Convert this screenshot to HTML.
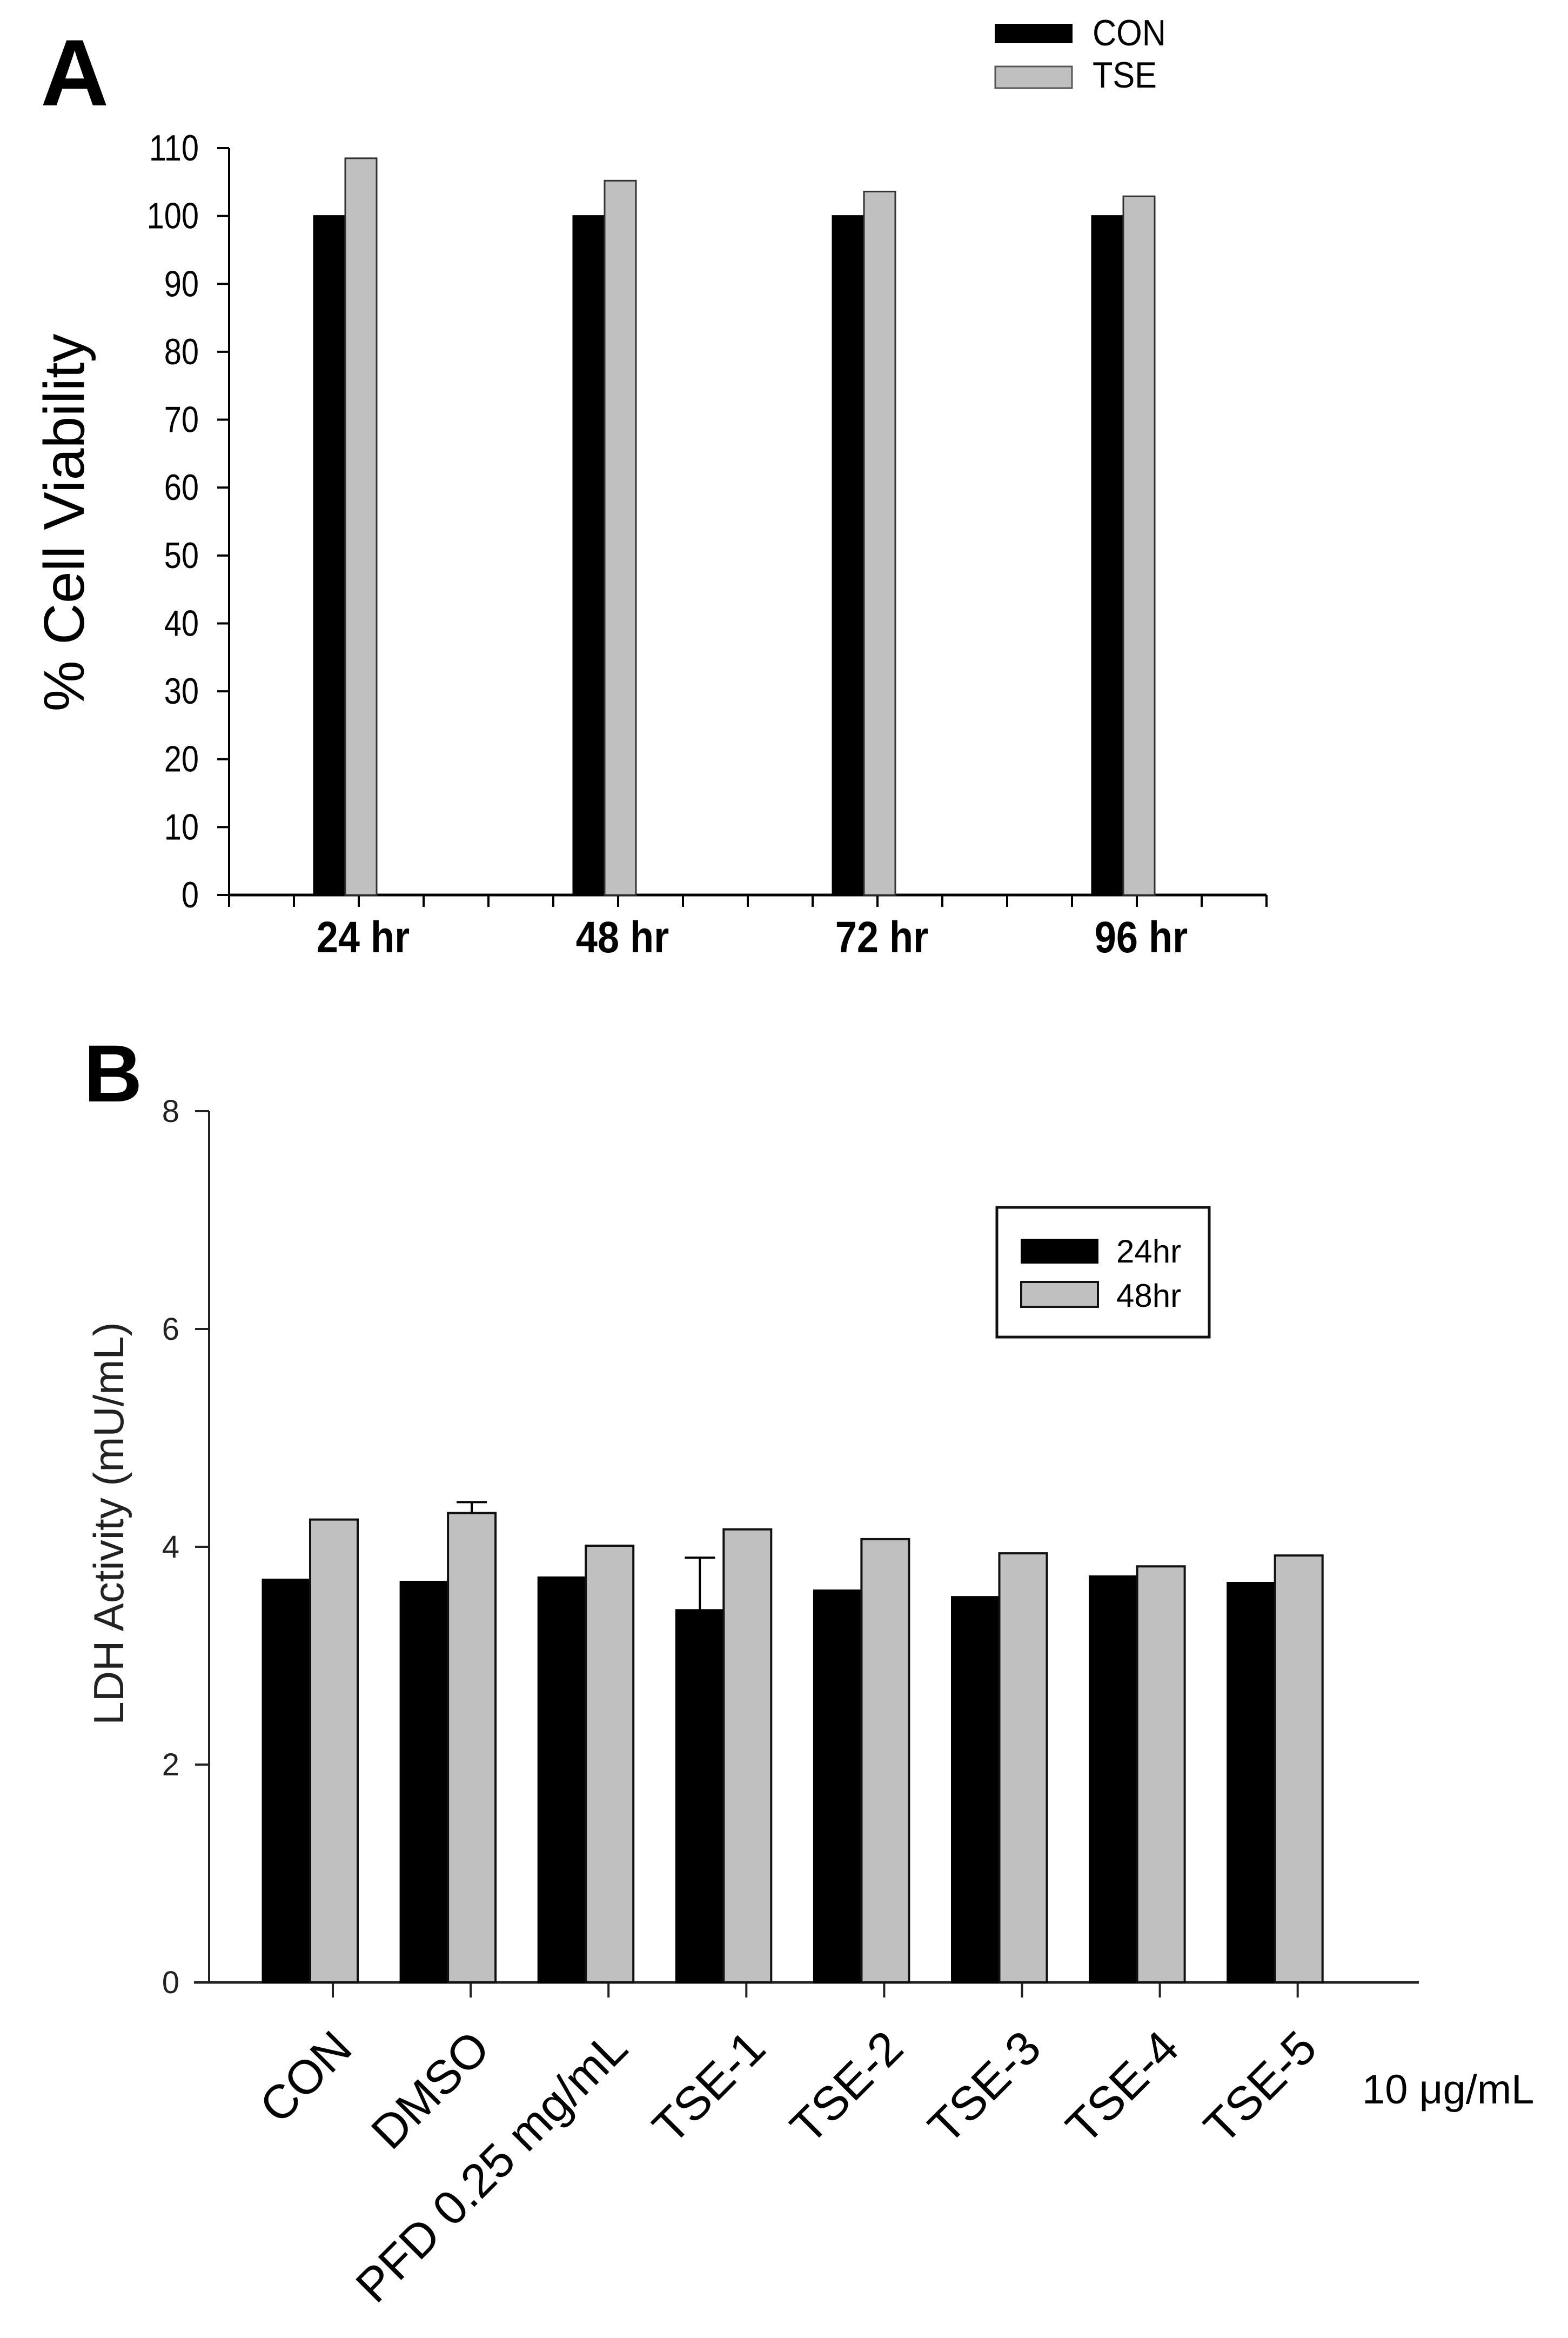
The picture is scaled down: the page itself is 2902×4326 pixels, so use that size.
<!DOCTYPE html>
<html><head><meta charset="utf-8">
<style>
html,body{margin:0;padding:0;background:#fff;}
svg{display:block;}
text{font-family:"Liberation Sans",sans-serif;}
</style></head>
<body>
<svg id="fig" width="2902" height="4326" viewBox="0 0 2902 4326" xmlns="http://www.w3.org/2000/svg">
<g id="panelA"></g>
<g id="panelB"></g>
</svg>
<script>
// Panel A data
const catsA = ["24 hr","48 hr","72 hr","96 hr"];
const conA = [100,100,100,100];
const tseA = [108.5,105.2,103.6,102.9];
const ticksA = [0,10,20,30,40,50,60,70,80,90,100,110];
// Panel B data
const catsB = ["CON","DMSO","PFD 0.25 mg/mL","TSE-1","TSE-2","TSE-3","TSE-4","TSE-5"];
const h24B = [3.70,3.68,3.72,3.42,3.60,3.54,3.73,3.67];
const h48B = [4.25,4.31,4.01,4.16,4.07,3.94,3.82,3.92];
const err24B = [0.0,0.01,0.01,0.48,0.01,0.01,0.01,0.01];
const err48B = [0.0,0.10,0.01,0.02,0.0,0.02,0.01,0.01];
const ticksB = [0,2,4,6,8];

const NS="http://www.w3.org/2000/svg";
function mk(parent,tag,attrs,txt){const e=document.createElementNS(NS,tag);for(const k in attrs)e.setAttribute(k,attrs[k]);if(txt!==undefined)e.textContent=txt;parent.appendChild(e);return e;}

// ---------- Panel A ----------
const A=document.getElementById('panelA');
const ax0=424, ax1=2344, ay0=1656, ay110=274;
const yA=v=>ay0-(v/110)*(ay0-ay110);
const tickStep=120;
const xCatA=i=>ax0+tickStep*(4*i+2);
let t=mk(A,'text',{x:75,y:195,'font-size':175,'font-weight':'bold'},'A');


let l=mk(A,'line',{x1:ax0,y1:ay110,x2:ax0,y2:ay0,stroke:'#000','stroke-width':4});


l=mk(A,'line',{x1:ax0,y1:ay0,x2:ax1,y2:ay0,stroke:'#000','stroke-width':5});


ticksA.forEach(v=>{
  const y=yA(v);
  mk(A,'line',{x1:ax0-22,y1:y,x2:ax0,y2:y,stroke:'#000','stroke-width':4});
  const ax=368;
  const tt=mk(A,'text',{x:ax,y:y+23,'font-size':68,'text-anchor':'end',transform:`translate(${ax},0) scale(0.85,1) translate(${-ax},0)`},String(v));
  
  
});
for(let k=0;k<=16;k++){const x=ax0+k*tickStep;mk(A,'line',{x1:x,y1:ay0,x2:x,y2:ay0+22,stroke:'#000','stroke-width':4});}
const bwA=58;
catsA.forEach((c,i)=>{
  const gx=xCatA(i)-83;
  let r=mk(A,'rect',{x:gx,y:yA(conA[i]),width:bwA,height:ay0-yA(conA[i]),fill:'#000',stroke:'#000','stroke-width':3});
  
  
  r=mk(A,'rect',{x:gx+bwA,y:yA(tseA[i]),width:bwA,height:ay0-yA(tseA[i]),fill:'#c0c0c0',stroke:'#333','stroke-width':3});
  
  
  const tx=xCatA(i)+8;
  const lab=mk(A,'text',{x:tx,y:1762,'font-size':82,'font-weight':'bold','text-anchor':'middle',transform:`translate(${tx},0) scale(0.88,1) translate(${-tx},0)`},c);
  
  
});
t=mk(A,'text',{x:0,y:0,'font-size':106,'text-anchor':'middle',transform:'translate(155,967) rotate(-90)'},'% Cell Viability');


// legend A
let lg=mk(A,'g',{});


mk(lg,'rect',{x:1841,y:44,width:144,height:36,fill:'#000'});
mk(lg,'rect',{x:1842,y:123,width:142,height:40,fill:'#c0c0c0',stroke:'#555','stroke-width':3});
let le=mk(lg,'text',{x:2022,y:84,'font-size':68,transform:'translate(2022,0) scale(0.9,1) translate(-2022,0)'},'CON');


le=mk(lg,'text',{x:2022,y:162,'font-size':68,transform:'translate(2022,0) scale(0.9,1) translate(-2022,0)'},'TSE');



// ---------- Panel B ----------
const B=document.getElementById('panelB');
const bx0=387, bx1=2626, by0=3668, by8=2056;
const yB=v=>by0-(v/8)*(by0-by8);
const xCatB=i=>616+i*255.1;
t=mk(B,'text',{x:155,y:2038,'font-size':150,'font-weight':'bold'},'B');


l=mk(B,'line',{x1:bx0,y1:by8,x2:bx0,y2:by0,stroke:'#222','stroke-width':4});


l=mk(B,'line',{x1:359,y1:by0,x2:bx1,y2:by0,stroke:'#222','stroke-width':5});


ticksB.forEach(v=>{
  const y=yB(v);
  mk(B,'line',{x1:bx0-26,y1:y,x2:bx0,y2:y,stroke:'#222','stroke-width':4});
  const tt=mk(B,'text',{x:332,y:y+20,'font-size':58,'text-anchor':'end',fill:'#222'},String(v));
  
  
});
const bwB=88;
catsB.forEach((c,i)=>{
  const tx=xCatB(i);
  mk(B,'line',{x1:tx,y1:by0,x2:tx,y2:by0+28,stroke:'#222','stroke-width':4});
  const gx=tx-130;
  let r=mk(B,'rect',{x:gx,y:yB(h24B[i]),width:bwB,height:by0-yB(h24B[i]),fill:'#000',stroke:'#000','stroke-width':3});
  
  
  r=mk(B,'rect',{x:gx+bwB,y:yB(h48B[i]),width:bwB,height:by0-yB(h48B[i]),fill:'#c0c0c0',stroke:'#111','stroke-width':4});
  
  
  if(err24B[i]>0.05){const cx=gx+bwB/2,yt=yB(h24B[i]+err24B[i]);
    mk(B,'line',{x1:cx,y1:yB(h24B[i]),x2:cx,y2:yt,stroke:'#000','stroke-width':4});
    mk(B,'line',{x1:cx-28,y1:yt,x2:cx+28,y2:yt,stroke:'#000','stroke-width':4});}
  if(err48B[i]>0.05){const cx=gx+bwB*1.5,yt=yB(h48B[i]+err48B[i]);
    mk(B,'line',{x1:cx,y1:yB(h48B[i]),x2:cx,y2:yt,stroke:'#000','stroke-width':4});
    mk(B,'line',{x1:cx-28,y1:yt,x2:cx+28,y2:yt,stroke:'#000','stroke-width':4});}
  const lx=tx+40, ly=3795;
  const lab=mk(B,'text',{x:lx,y:ly,'font-size':88,'text-anchor':'end',transform:`rotate(-45 ${lx} ${ly})`},c);
  
  
});
t=mk(B,'text',{x:2521,y:3892,'font-size':76},'10 μg/mL');


t=mk(B,'text',{x:0,y:0,'font-size':78,'text-anchor':'middle',fill:'#222',transform:'translate(228,2819) rotate(-90)'},'LDH Activity (mU/mL)');


lg=mk(B,'g',{});


mk(lg,'rect',{x:1845,y:2234,width:393,height:240,fill:'#fff',stroke:'#111','stroke-width':5});
mk(lg,'rect',{x:1889,y:2292,width:144,height:46,fill:'#000'});
mk(lg,'rect',{x:1890,y:2372,width:142,height:46,fill:'#c0c0c0',stroke:'#111','stroke-width':4});
le=mk(lg,'text',{x:2066,y:2336,'font-size':60},'24hr');


le=mk(lg,'text',{x:2066,y:2418,'font-size':60},'48hr');


</script>
</body></html>
